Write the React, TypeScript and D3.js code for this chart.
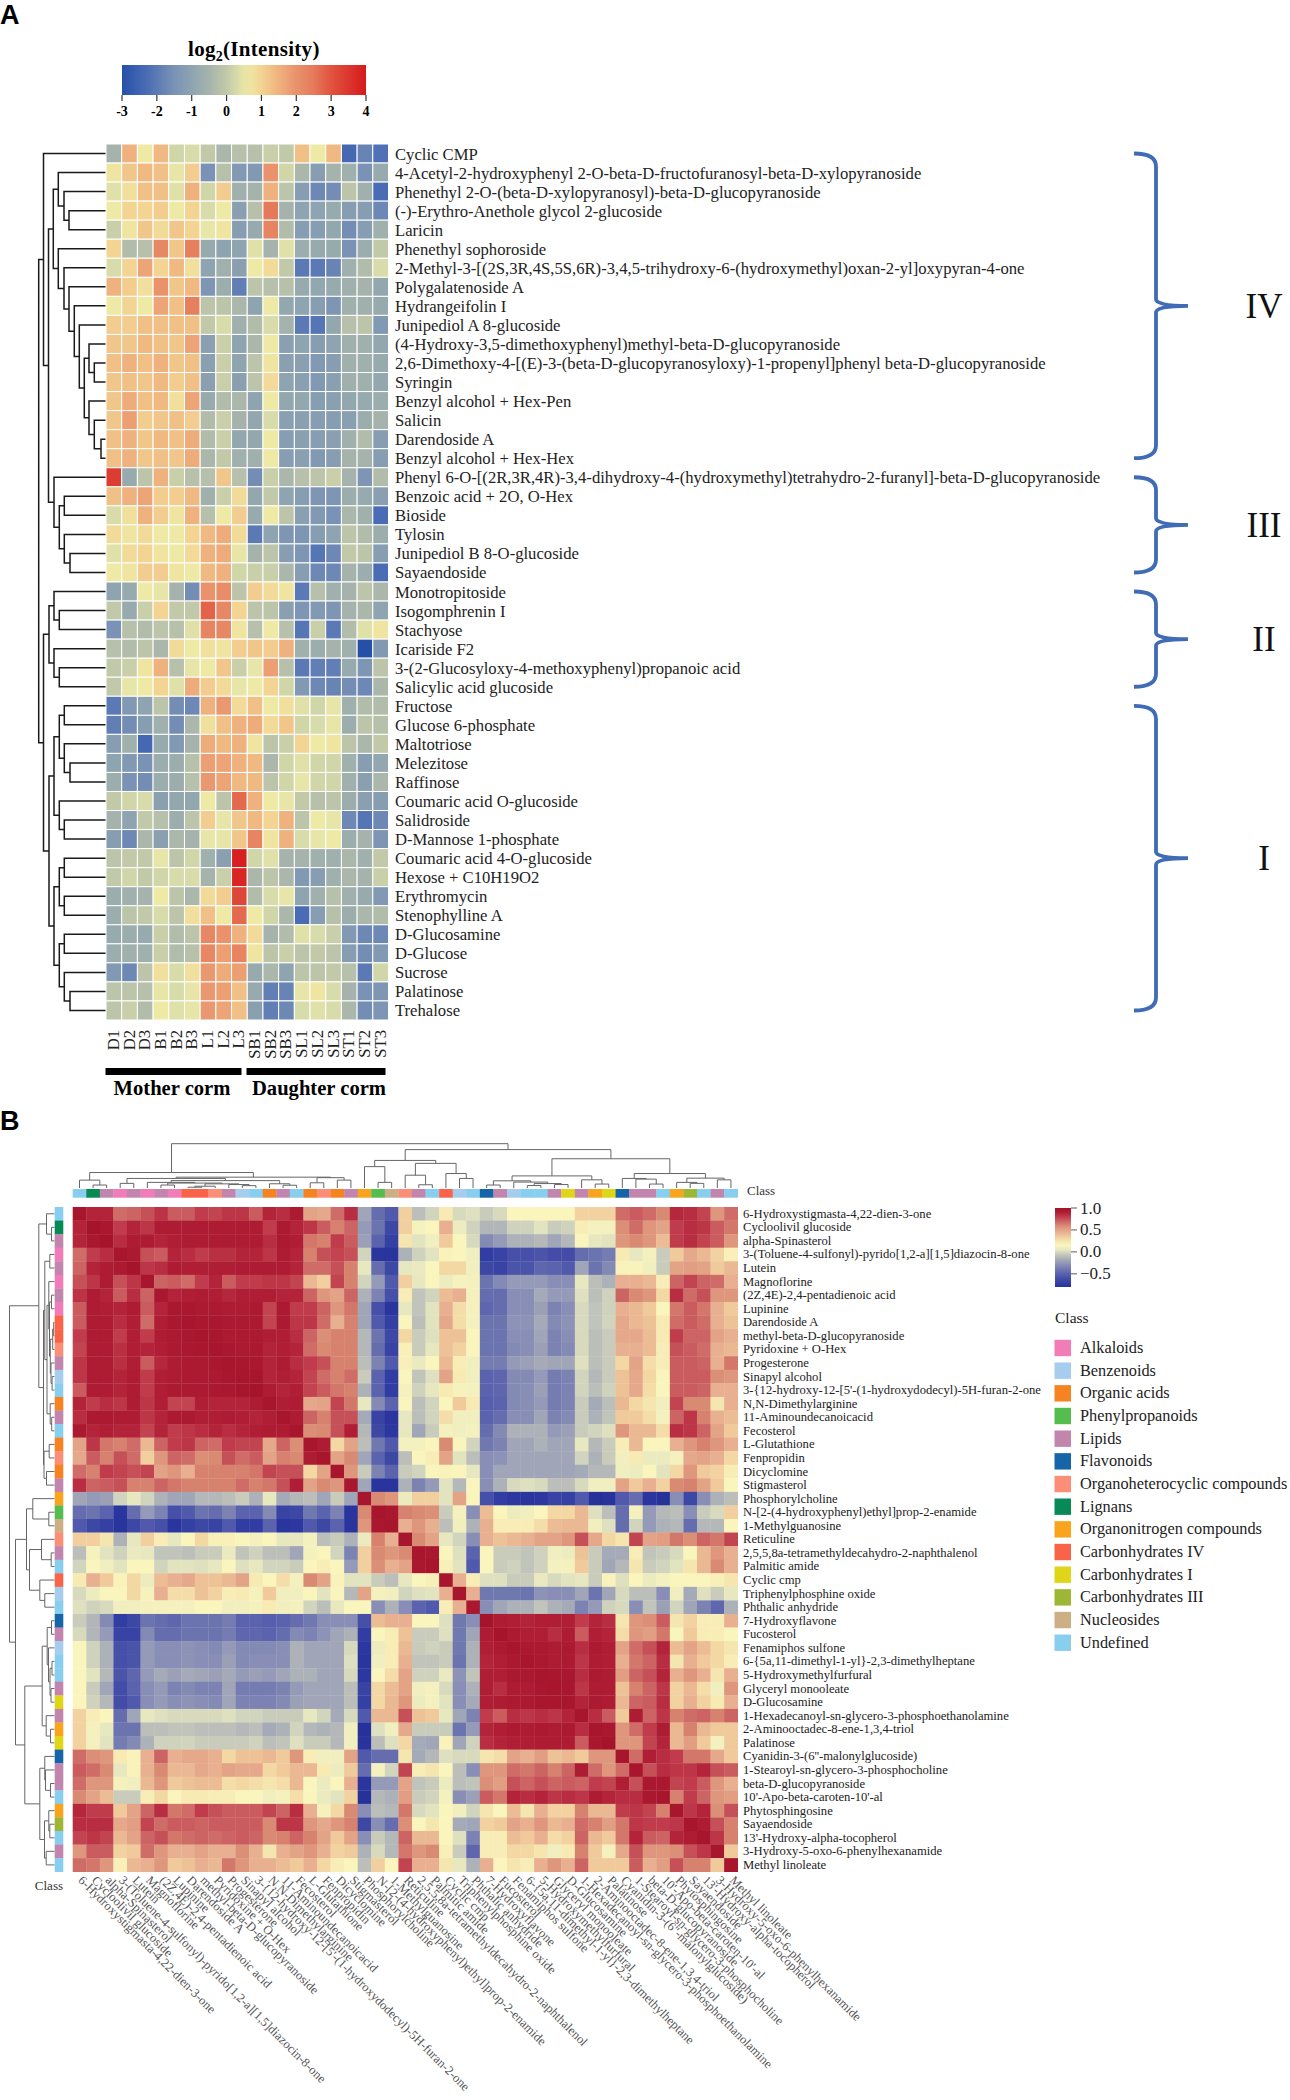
import * as d3 from "d3";

type Tree = number | [number, Tree, Tree];

// panel A
const metabolites = [
  "Cyclic CMP",
  "4-Acetyl-2-hydroxyphenyl 2-O-beta-D-fructofuranosyl-beta-D-xylopyranoside",
  "Phenethyl 2-O-(beta-D-xylopyranosyl)-beta-D-glucopyranoside",
  "(-)-Erythro-Anethole glycol 2-glucoside",
  "Laricin",
  "Phenethyl sophoroside",
  "2-Methyl-3-[(2S,3R,4S,5S,6R)-3,4,5-trihydroxy-6-(hydroxymethyl)oxan-2-yl]oxypyran-4-one",
  "Polygalatenoside A",
  "Hydrangeifolin I",
  "Junipediol A 8-glucoside",
  "(4-Hydroxy-3,5-dimethoxyphenyl)methyl-beta-D-glucopyranoside",
  "2,6-Dimethoxy-4-[(E)-3-(beta-D-glucopyranosyloxy)-1-propenyl]phenyl beta-D-glucopyranoside",
  "Syringin",
  "Benzyl alcohol + Hex-Pen",
  "Salicin",
  "Darendoside A",
  "Benzyl alcohol + Hex-Hex",
  "Phenyl 6-O-[(2R,3R,4R)-3,4-dihydroxy-4-(hydroxymethyl)tetrahydro-2-furanyl]-beta-D-glucopyranoside",
  "Benzoic acid + 2O, O-Hex",
  "Bioside",
  "Tylosin",
  "Junipediol B 8-O-glucoside",
  "Sayaendoside",
  "Monotropitoside",
  "Isogomphrenin I",
  "Stachyose",
  "Icariside F2",
  "3-(2-Glucosyloxy-4-methoxyphenyl)propanoic acid",
  "Salicylic acid glucoside",
  "Fructose",
  "Glucose 6-phosphate",
  "Maltotriose",
  "Melezitose",
  "Raffinose",
  "Coumaric acid O-glucoside",
  "Salidroside",
  "D-Mannose 1-phosphate",
  "Coumaric acid 4-O-glucoside",
  "Hexose + C10H19O2",
  "Erythromycin",
  "Stenophylline A",
  "D-Glucosamine",
  "D-Glucose",
  "Sucrose",
  "Palatinose",
  "Trehalose",
];
const samples = ["D1", "D2", "D3", "B1", "B2", "B3", "L1", "L2", "L3", "SB1", "SB2", "SB3", "SL1", "SL2", "SL3", "ST1", "ST2", "ST3"];
const intensityTicks = [-3, -2, -1, 0, 1, 2, 3, 4];
const intensity = [
  [-.5, 1.5, .6, 1.4, .2, .3, 0, -.4, -.2, -.2, .1, 0, 1.3, .6, 1.4, -2.4, -1.8, -2.2],
  [.7, 1.2, 1.4, 1.3, .5, 1.1, -1.5, -.2, -1.3, -1.3, 2, .2, -.4, -1.2, -.5, -.6, -1.5, -.8],
  [.4, .8, 1.3, 1.3, .4, 1.5, .2, 1.1, -.6, -.5, 1.5, -.1, -1.2, -1.7, -1.6, -.1, -.6, -2.3],
  [.6, 1, 1, 1.1, .6, 1, .3, .6, -1.1, -.2, 2.5, -.5, -1, -1, -.8, -1.2, -1.2, -1.7],
  [.1, .7, 1.2, .9, 1.2, 1, .5, .7, -1.2, -.8, 2.3, -.3, -1.2, -1.2, -.9, -1.6, -1.2, -.6],
  [1, -.3, -.2, 2.2, 1.2, 2.4, -.8, -1, -1, .4, -.5, .4, -.7, -.8, -.8, -1.5, -.7, 0],
  [.3, 1, 1.7, 1, 1.4, .8, -1, -.6, -1.1, .6, .9, 0, -2, -2, -1.8, -.6, -.3, .3],
  [1.5, 1.1, .8, 2, 1.2, 1.4, -1.4, -.7, -1.9, -.1, -.2, -.2, -.8, -.9, -.8, -.6, -.5, -.9],
  [.6, 1, .6, 1.7, 1.3, 2.4, -.1, -.1, -.4, -1, .6, -.9, -1, -1.2, -1.4, -.6, -.6, -.8],
  [1.1, 1.1, 1.3, 1.3, 1.3, 1.3, 0, .3, -.6, -.3, .3, -.5, -2, -2.1, -.9, -.2, -.1, -1.3],
  [1.2, 1.2, 1.4, 1.3, 1.2, 1.7, -1.1, .1, -1, -.4, .6, -1.1, -1, -1.2, -1, -.6, -.6, -.9],
  [1.3, 1.5, 1.3, 1.5, 1.2, 1.3, -1.1, .1, -1, -.1, .7, -1.1, -1.1, -1.3, -1.2, -.6, -.6, -.8],
  [1.2, 1.3, 1.2, 1.4, 1.1, 1.3, -1.1, .1, -1.1, -.1, .9, -1, -1.1, -1.3, -1.1, -.6, -.6, -.9],
  [1.2, 1.6, 1.3, 1.4, .8, 1.7, -.8, -.3, -.4, -1, .6, -.9, -.9, -1.2, -1.1, -.9, -.8, -.7],
  [1.2, 1.8, 1.1, 1.2, 1.3, 1.1, -.3, .1, -.5, -.9, .3, -1.1, -1.1, -1.2, -1.2, -1.1, -.7, -.5],
  [1.3, 1.5, 1.2, 1.4, 1.3, 1.6, -.3, .1, -.9, -.9, .6, -1.2, -1.1, -1.2, -1.1, -.6, -.3, -1.2],
  [1.3, 1.5, 1.2, 1.3, 1.2, 1.6, -.4, 0, -.6, -.6, .6, -1.2, -1.1, -1.3, -1.2, -.5, -.5, -1.2],
  [3.4, -.8, -.1, 1.5, .1, -.2, -.2, 1.2, -.2, -1.6, .1, -.4, -.2, -.1, .1, -.5, -1.4, -.3],
  [1.3, 1.5, 1.7, 1.1, 1.1, 1.4, -.6, .1, .9, -.9, 0, -1, -1.2, -1.4, -1.4, -.7, -.8, -1.1],
  [.3, .8, 1.5, 1.1, .7, 1.5, -.2, .6, 1.1, -.8, .6, -.1, -1.1, -1.3, -1.5, -.4, -.6, -2.3],
  [.9, .7, .9, .6, .6, 1, 1.4, 1.6, .9, -2, -1, -1.4, -1.4, -1.2, -1, -.1, -.3, -.7],
  [.4, .9, 1, .7, .6, .9, 1.5, 1.6, .5, -.5, -.1, -1.2, -1.4, -2.1, -1.7, 0, -.1, -1.2],
  [.6, .7, 1.1, 1.1, .7, .6, 1.4, 1.5, .2, .1, .1, -.4, -1.2, -1.7, -1.7, -.5, -.7, -2.3],
  [-1, -.8, .6, .5, -.5, -1.6, 2, 2.1, -.1, 1.1, .9, .7, -2, -.2, -.6, -.5, -.1, -.4],
  [0, -.8, .1, 1, 0, 0, 2.8, 2.2, 1, -.1, -.1, -1.1, -1.4, -1.3, -1.4, -.5, -.4, -1],
  [-1.5, -.2, -.3, -.1, -.2, .4, 2.3, 2.2, .7, -.2, .6, -.2, -2.1, .1, -2, -.3, .4, .7],
  [-.2, -.3, -.1, -.4, .9, .6, .8, .7, 1.1, 1.2, 1.1, 1.5, -.6, -.7, -.5, -.6, -3, -1.3],
  [0, .1, .7, 1.5, -.2, .5, .6, 1.2, .1, .5, 1.8, -.2, -2, -1.9, -1.9, -.8, -1.4, -.1],
  [0, .5, .6, 1, .4, 1.6, 1.1, .9, .5, .6, 1, .2, -1.3, -1.7, -1.8, -1.6, -1.7, -.4],
  [-2, -1.3, -1, -.1, -1.6, -1.7, 1.5, 1.9, .9, 1.3, .6, .8, .4, .2, .5, -.6, -.3, -.3],
  [-1.9, -1.6, -1.2, -.6, -1.6, -.4, .8, 1.3, 1.5, 1.6, .9, 1.2, .2, .3, .5, -.7, -.1, -.2],
  [-1.2, -.6, -2.4, -.8, -1.3, -.5, 1.6, 1.4, 1.5, .7, -.1, .1, 1, .6, .7, -.1, -.4, 0],
  [-1, -1.3, -1.5, -.7, -.7, -.2, 1.8, 1.7, 1.5, 1.4, -.4, .2, .4, .2, .2, -.6, -1.2, -.9],
  [-.7, -1.5, -1.6, -.7, -.7, -.2, 1.9, 1.7, 1.4, 1.4, -.1, .2, .5, .2, .2, -.6, -1.1, -.4],
  [0, .2, .3, -1.1, -.9, -.9, .6, -.1, 2.7, 1.5, .6, .5, 0, -.2, -.1, -.7, -1.1, -1.2],
  [-.5, -1, 0, -.2, -.7, -.1, 1.1, .5, 1.2, 1.4, 1, 1.5, -.1, .6, .5, -1.7, -2.1, -1.7],
  [-1.2, -1.7, -.4, -1.1, -.4, -.5, .5, .5, 1.2, 2.3, .7, 1.5, .3, .5, .6, -.7, -.5, -1.4],
  [-.1, 0, 0, .5, -.1, .2, -.6, -1.1, 3.9, .2, .4, -.5, -.5, -.6, -.6, -.4, -.6, 0],
  [0, .2, 0, .2, .3, .3, -.5, .1, 3.8, -.4, -.1, -.4, -1.3, -1.2, -.6, -.4, -.5, .1],
  [-.7, -.6, -.5, .6, -.1, -.4, .9, 1.1, 3.2, -.3, .3, .5, -1, -.6, -.2, -.6, -.8, -1.3],
  [-.7, -.1, 0, .3, -.1, .8, 1.3, .6, 2.7, .6, .2, -.4, -2.3, -1.2, -.2, -.7, -.4, -.3],
  [-.8, -.7, -.8, .1, -.3, -.1, 2.2, 2, 1.5, .9, -.5, -.3, .4, .3, .1, -1.3, -1.7, -1.7],
  [-.7, -.6, -.6, .1, -.3, -.2, 2.2, 1.8, 2.3, .7, -.1, .1, -.1, 0, -.1, -1.2, -1.6, -1.3],
  [-1.3, -1.7, -.1, .8, .3, .8, 1.9, 1.6, 1.8, -.8, -.4, -1, -.1, -.1, 0, -.2, -2, .2],
  [-.1, -.1, -.2, .5, .3, .5, 1.9, 1.8, 1.3, -.8, -1.9, -1.8, .5, .7, .3, -.5, -1.5, -1.4],
  [-.1, .1, -.3, .6, .4, .5, 1.9, 1.7, 1.3, -1.1, -1.9, -1.7, .3, .4, .3, -.4, -1.6, -1.4],
];
// merge height, left, right; leaves are 1-based row numbers
const intensityTree: Tree = [67.3,
  [62.5, 1, [57.5,
    [52.7, [47.7, 2, [42, 3, [37, 4, 5]]],
      [47.7, 6, [42, 7, [37, 8, [31.7, 9, [26.7, 10, [21.7, [17, 11, [11.7, 12, 13]], [17, 14, [11.7, 15, [5, 16, 17]]]]]]]]]],
    [52, 18, [46.7, [41.7, 19, 20], [41.7, 21, [36, 22, 23]]]]]],
  [62.5,
    [57, [52, 24, [46.7, 25, 26]], [52, 27, [46.7, 28, 29]]],
    [57,
      [52, [46.7, [41.7, 30, 31], [41.7, 32, [36, 33, 34]]], [46.7, 35, [41.7, 36, 37]]],
      [52, [46.7, [41.7, 38, 39], [41.7, 40, 41]], [46.7, [41.7, 42, 43], [41.7, 44, [36, 45, 46]]]]]]];
const clusterNames = ["IV", "III", "II", "I"];
const clusterRows = [[0, 16], [17, 22], [23, 28], [29, 45]];

// panel B
const compounds = [
  "6-Hydroxystigmasta-4,22-dien-3-one",
  "Cycloolivil glucoside",
  "alpha-Spinasterol",
  "3-(Toluene-4-sulfonyl)-pyrido[1,2-a][1,5]diazocin-8-one",
  "Lutein",
  "Magnoflorine",
  "(2Z,4E)-2,4-pentadienoic acid",
  "Lupinine",
  "Darendoside A",
  "methyl-beta-D-glucopyranoside",
  "Pyridoxine + O-Hex",
  "Progesterone",
  "Sinapyl alcohol",
  "3-{12-hydroxy-12-[5'-(1-hydroxydodecyl)-5H-furan-2-one",
  "N,N-Dimethylarginine",
  "11-Aminoundecanoicacid",
  "Fecosterol",
  "L-Glutathione",
  "Fenpropidin",
  "Dicyclomine",
  "Stigmasterol",
  "Phosphorylcholine",
  "N-[2-(4-hydroxyphenyl)ethyl]prop-2-enamide",
  "1-Methylguanosine",
  "Reticuline",
  "2,5,5,8a-tetramethyldecahydro-2-naphthalenol",
  "Palmitic amide",
  "Cyclic cmp",
  "Triphenylphosphine oxide",
  "Phthalic anhydride",
  "7-Hydroxyflavone",
  "Fucosterol",
  "Fenamiphos sulfone",
  "6-{5a,11-dimethyl-1-yl}-2,3-dimethylheptane",
  "5-Hydroxymethylfurfural",
  "Glyceryl monooleate",
  "D-Glucosamine",
  "1-Hexadecanoyl-sn-glycero-3-phosphoethanolamine",
  "2-Aminooctadec-8-ene-1,3,4-triol",
  "Palatinose",
  "Cyanidin-3-(6''-malonylglucoside)",
  "1-Stearoyl-sn-glycero-3-phosphocholine",
  "beta-D-glucopyranoside",
  "10'-Apo-beta-caroten-10'-al",
  "Phytosphingosine",
  "Sayaendoside",
  "13'-Hydroxy-alpha-tocopherol",
  "3-Hydroxy-5-oxo-6-phenylhexanamide",
  "Methyl linoleate",
];
const classNames = ["Alkaloids", "Benzenoids", "Organic acids", "Phenylpropanoids", "Lipids", "Flavonoids", "Organoheterocyclic compounds", "Lignans", "Organonitrogen compounds", "Carbonhydrates IV", "Carbonhydrates I", "Carbonhydrates III", "Nucleosides", "Undefined"];
const classColours = ["#f07cb8", "#a6cdee", "#f58322", "#55bc4e", "#c286ae", "#1565a8", "#fa8e76", "#078a56", "#f8a51d", "#f96448", "#dfd617", "#9db635", "#cdaf85", "#87ceef"];
const compoundClass = [13, 7, 4, 0, 4, 0, 4, 0, 9, 9, 6, 4, 1, 13, 2, 4, 13, 2, 6, 2, 4, 8, 3, 12, 6, 4, 13, 9, 1, 13, 5, 4, 1, 13, 13, 4, 10, 4, 8, 10, 5, 4, 4, 13, 8, 11, 13, 4, 13];
const corrTicks = [1, 0.5, 0, -0.5];
// upper triangle of the correlation matrix, r x 100, each row starts on the diagonal
const corrUpper = [
  [97, 88, 88, 68, 70, 75, 83, 72, 72, 80, 78, 82, 82, 72, 88, 85, 93, 50, 48, 68, 85, -20, -45, -55, 33, -10, -2, 22, 0, 2, -5, 0, 15, 15, 15, 15, 15, 32, 32, 32, 68, 72, 68, 60, 87, 85, 78, 55, 68],
  [98, 95, 80, 88, 82, 92, 92, 92, 92, 92, 92, 92, 92, 80, 93, 88, 82, 72, 62, 70, -25, -42, -65, 33, 13, 15, 45, 8, -3, -13, -13, -3, -3, 3, -5, -3, 20, 12, 12, 58, 68, 55, 50, 80, 85, 82, 72, 65],
  [98, 85, 92, 92, 88, 90, 92, 92, 92, 92, 92, 92, 85, 93, 90, 65, 62, 80, 72, -22, -50, -70, 25, 3, 10, 35, 15, 0, -32, -25, -15, -15, -12, -20, -12, 15, 5, 3, 55, 60, 55, 40, 80, 85, 78, 72, 55],
  [97, 93, 75, 72, 88, 85, 80, 84, 84, 88, 88, 82, 92, 88, 62, 75, 78, 75, -2, -78, -80, -15, -3, 3, 17, 15, 10, -72, -68, -60, -60, -58, -62, -62, -45, -42, -38, 22, 5, 12, -5, 35, 48, 42, 32, 18],
  [98, 82, 85, 92, 90, 90, 90, 90, 92, 92, 92, 92, 88, 68, 68, 75, 62, 5, -45, -65, 5, 6, 15, 30, 30, 10, -65, -68, -58, -58, -48, -50, -55, -20, -42, -32, 17, 17, 10, -5, 50, 52, 50, 35, 42],
  [97, 70, 72, 68, 80, 88, 72, 80, 80, 82, 82, 78, 42, 33, 78, 62, -2, -25, -55, 33, 5, 15, 8, 13, 12, -42, -32, -25, -25, -25, -30, -30, 5, -10, -15, 45, 45, 42, 20, 70, 78, 70, 68, 45],
  [95, 88, 90, 92, 90, 87, 90, 90, 90, 88, 88, 70, 55, 50, 70, -15, -35, -60, 20, -8, -2, 40, 45, 12, -45, -45, -30, -30, -18, -25, -25, 2, -10, -3, 70, 60, 55, 30, 85, 68, 75, 55, 55],
  [95, 95, 93, 93, 92, 92, 93, 78, 93, 80, 80, 70, 55, 65, -20, -60, -78, 5, -8, 3, 45, 28, 12, -48, -45, -30, -30, -22, -35, -30, 0, -8, -3, 45, 42, 35, 15, 65, 72, 65, 45, 35],
  [97, 95, 95, 93, 93, 93, 78, 93, 82, 82, 68, 45, 62, -20, -55, -70, 15, -10, 3, 48, 28, 12, -42, -42, -28, -28, -18, -32, -28, 0, -8, -2, 48, 42, 38, 22, 68, 72, 68, 45, 38],
  [97, 96, 93, 93, 93, 90, 90, 85, 70, 58, 62, 62, -12, -42, -65, 30, -5, 2, 38, 38, 15, -42, -42, -30, -30, -20, -35, -30, 0, -10, -5, 48, 48, 40, 22, 80, 70, 70, 50, 45],
  [97, 95, 93, 94, 88, 90, 88, 68, 60, 62, 62, -12, -45, -68, 18, -5, 5, 38, 32, 15, -42, -42, -32, -30, -22, -35, -32, 0, -10, -5, 45, 45, 40, 20, 75, 72, 68, 45, 42],
  [97, 96, 95, 88, 92, 85, 80, 75, 62, 62, -10, -35, -55, 18, 6, 15, 42, 20, 10, -38, -38, -25, -22, -18, -20, -20, 2, -10, -5, 30, 50, 28, 20, 72, 72, 70, 45, 65],
  [97, 97, 88, 90, 88, 78, 68, 62, 68, -5, -50, -72, 15, -8, 2, 50, 22, 10, -50, -48, -32, -32, -25, -38, -35, -2, -12, -5, 38, 48, 30, 15, 72, 72, 72, 58, 55],
  [98, 92, 88, 90, 78, 72, 65, 62, -15, -50, -72, 12, -3, 5, 22, 13, 12, -50, -48, -32, -30, -22, -38, -35, -2, -10, -3, 38, 48, 28, 15, 72, 72, 70, 45, 45],
  [97, 90, 92, 48, 50, 78, 65, 5, -32, -50, 15, -10, -2, 15, 35, 22, -52, -50, -32, -30, -25, -38, -35, -5, -18, -10, 42, 30, 25, 10, 78, 60, 60, 25, 45],
  [97, 92, 70, 62, 75, 75, -18, -68, -78, 5, -10, -2, 28, 10, 10, -50, -45, -30, -30, -20, -35, -32, -5, -15, -8, 35, 35, 28, 12, 70, 82, 62, 45, 40],
  [97, 58, 60, 75, 90, -12, -65, -75, 5, -20, -5, 12, 10, 12, -45, -32, -15, -15, -15, -25, -22, -5, -2, 2, 55, 42, 42, 28, 85, 82, 70, 50, 35],
  [97, 92, 30, 50, -10, -40, -55, 12, 12, 15, 60, 15, -2, -40, -35, -20, -20, -15, -20, -20, 5, -12, -5, 20, 42, 15, 15, 45, 55, 62, 55, 45],
  [97, 50, 60, -20, -50, -65, -10, 15, 20, 50, 3, -10, -30, -28, -20, -20, -20, -20, -20, -2, -15, -5, 10, 22, 7, 7, 12, 48, 50, 45, 30],
  [97, 55, -5, -35, -50, -5, -2, 15, 17, 15, 5, -30, -20, -20, -20, -20, -20, -20, -18, -12, -12, 10, 8, 15, 3, 30, 55, 35, 32, 20],
  [95, -20, -80, -80, -15, -35, -25, 3, -12, 15, -30, -15, 0, 2, 0, -10, -10, 0, 10, 10, 50, 35, 45, 32, 60, 62, 50, 35, 15],
  [97, 60, 55, 7, 33, 33, 3, 50, 15, -60, -72, -75, -78, -75, -68, -70, -55, -85, -82, -55, -45, -78, -85, -30, -65, -30, -15, -10],
  [97, 95, 62, 60, 58, -5, 12, -30, 40, 15, 8, 10, 15, 30, 30, 42, 2, -10, -45, 12, -25, -12, -10, -30, -5, 0, 33],
  [97, 45, 55, 45, -10, 10, -15, 45, 20, 20, 20, 28, 40, 42, 42, 10, 2, -45, -2, -25, -15, -12, -45, -12, -12, 15],
  [97, 60, 50, 5, -2, -30, 45, 38, 42, 45, 50, 50, 55, 75, 48, 30, 25, 78, 50, 52, 65, 58, 70, 65, 78],
  [97, 95, 15, 2, -50, 15, -5, -5, -8, -3, 10, 8, 38, -5, -18, -18, 20, -8, -5, 0, 15, 42, 55, 45],
  [97, 18, 3, -55, 15, -5, -3, -8, -3, 12, 12, 35, -5, -20, -12, 25, -5, -2, 3, 25, 42, 60, 45],
  [97, 45, 20, 2, 2, -5, -5, 6, 0, 3, 5, -5, 17, 2, 15, 7, 12, 15, 15, 15, 18, 25],
  [97, 45, -40, -40, -40, -42, -28, -30, -30, -20, -42, -20, 0, -10, -10, -30, 10, -18, 2, -5, 5],
  [95, -30, -20, -15, -15, -8, -15, -18, -35, -25, -3, 0, -30, -8, -22, -2, -20, -35, -48, -15],
  [98, 92, 90, 88, 90, 90, 90, 80, 88, 85, 25, 55, 58, 72, 25, 32, 20, 20, 45],
  [98, 93, 90, 90, 85, 92, 72, 90, 88, 28, 55, 52, 65, 15, 35, 20, 20, 15],
  [97, 94, 94, 92, 93, 85, 93, 90, 50, 68, 75, 88, 40, 50, 40, 30, 25],
  [97, 94, 92, 93, 82, 92, 90, 45, 65, 70, 85, 25, 45, 35, 30, 20],
  [97, 96, 96, 85, 93, 92, 52, 70, 75, 88, 45, 55, 45, 25, 45],
  [97, 96, 82, 92, 92, 38, 62, 70, 82, 32, 42, 28, 10, 55],
  [97, 88, 93, 92, 42, 70, 72, 85, 32, 45, 32, 22, 45],
  [97, 85, 72, 35, 92, 70, 82, 62, 68, 70, 62, 70],
  [97, 95, 55, 68, 80, 92, 42, 62, 42, 35, 35],
  [98, 55, 55, 78, 88, 42, 52, 35, 12, 35],
  [97, 68, 90, 85, 80, 65, 65, 48, 35],
  [97, 75, 85, 82, 82, 88, 75, 72],
  [95, 95, 78, 80, 72, 55, 45],
  [97, 62, 80, 70, 55, 52],
  [97, 82, 88, 58, 75],
  [97, 92, 75, 62],
  [97, 82, 62],
  [97, 35],
  [97],
];
const compoundTree: Tree = [45,
  [15.7, [8, 1, [3, 2, 3]],
    [11,
      [9.7, [4.7, 4, 5], [7.5, [5.7, 6, [5, [3, 7, 8], [4.2, [1.8, [0.8, 9, 10], 11], [3.5, 12, [2.4, 13, 14]]]]], [4.3, 15, [2.8, 16, 17]]]],
      [10.5, [5.3, 18, 19], [8, 20, 21]]]],
  [39,
    [28, [21.7, 22, [5.7, 23, 24]], [25, [13, 25, [3.3, 26, 27]], [14.7, 28, [9.7, 29, 30]]]],
    [29.7,
      [12.3, [7.3, [3, 31, 32], [6, 33, [4.5, [2.5, 34, 35], [3.5, 36, 37]]]], [8.3, 38, [4, 39, 40]]],
      [14.7, [9.7, 41, [9, 42, [4, 43, 44]]], [10, [5.7, 45, [4.7, 46, 47]], [8.3, 48, 49]]]]]];

const corr = compounds.map((_, i) => compounds.map((_, j) => {
  const a = Math.min(i, j);
  const b = Math.max(i, j);
  return corrUpper[a][b - a] / 100;
}));

const SERIF = "'Liberation Serif', serif";

const intensityColour = d3.scaleLinear<string>()
  .domain([-3, -2.3, -2, -1.5, -1, -.5, 0, .3, .6, 1, 1.5, 2, 2.5, 3, 4])
  .range(["#2450a8", "#4a6cb5", "#5b7ab5", "#7a92b5", "#8ea4b0", "#a5b3ac", "#c2c9a8", "#d8dcaa", "#eeeaa6", "#f3d493", "#efb27e", "#e9926c", "#e57a5a", "#e0533f", "#d7191c"])
  .clamp(true);

const corrColour = d3.scaleLinear<string>()
  .domain([-.85, -.75, -.6, -.5, -.4, -.3, -.2, -.12, -.03, .05, .15, .25, .35, .45, .6, .7, .8, .9, 1])
  .range(["#26319a", "#2c38a0", "#4650a8", "#5b62ae", "#7078b0", "#888eb5", "#a0a5b8", "#b5b8b8", "#cfd2bc", "#e8e8c0", "#faf5bd", "#f5e5ae", "#f0ca9a", "#e8b090", "#d98a72", "#cc6464", "#c03c4c", "#b01e35", "#a3122a"])
  .clamp(true);

// walks a merge tree and writes the elbow lines into one path
const dendrogramPath = (
  tree: Tree,
  leafPos: (leaf: number) => number,
  heightPos: (h: number) => number,
  vertical: boolean
) => {
  const path = d3.path();
  const pt = (h: number, p: number): [number, number] => vertical ? [p, heightPos(h)] : [heightPos(h), p];
  const walk = (node: Tree): { p: number; h: number } => {
    if (typeof node === "number") return { p: leafPos(node), h: 0 };
    const a = walk(node[1]);
    const b = walk(node[2]);
    path.moveTo(...pt(a.h, a.p));
    path.lineTo(...pt(node[0], a.p));
    path.lineTo(...pt(node[0], b.p));
    path.lineTo(...pt(b.h, b.p));
    return { p: (a.p + b.p) / 2, h: node[0] };
  };
  walk(tree);
  return path.toString();
};

const PanelA = () => {
  const x = d3.scaleBand().domain(samples).range([106, 388.5]);
  const y = d3.scaleBand().domain(metabolites).range([144, 1020]);
  const legendX = d3.scaleLinear().domain([-3, 4]).range([122, 366]);
  const treeX = d3.scaleLinear().domain([0, 70]).range([106, 36]);
  const rowMid = (row: number) => (y(metabolites[row]) as number) + y.bandwidth() / 2;
  const gradientStops = d3.range(-3, 4.01, 0.25);

  return (
    <g>
      <text x={0} y={24} fontFamily="'Liberation Sans', sans-serif" fontWeight="bold" fontSize={27}>A</text>
      <defs>
        <linearGradient id="intensity-gradient" x1="0%" x2="100%" y1="0%" y2="0%">
          {gradientStops.map((v) => (
            <stop key={v} offset={`${((v + 3) / 7) * 100}%`} stopColor={intensityColour(v)} />
          ))}
        </linearGradient>
      </defs>
      <text x={188} y={56} fontFamily={SERIF} fontWeight="bold" fontSize={21} style={{ letterSpacing: "0.3px" }}>
        log<tspan fontSize={14} dy={5}>2</tspan><tspan dy={-5}>(Intensity)</tspan>
      </text>
      <rect x={legendX(-3)} y={65} width={legendX(4) - legendX(-3)} height={30} fill="url(#intensity-gradient)" />
      {intensityTicks.map((t) => (
        <g key={t}>
          <line x1={legendX(t)} x2={legendX(t)} y1={95} y2={101} stroke="#333" strokeWidth={1.2} />
          <text x={legendX(t)} y={116} textAnchor="middle" fontFamily={SERIF} fontWeight="bold" fontSize={14}>{t}</text>
        </g>
      ))}

      <path
        d={dendrogramPath(intensityTree, (leaf) => rowMid(leaf - 1), treeX, false)}
        fill="none"
        stroke="#1a1a1a"
        strokeWidth={1.5}
      />

      {metabolites.map((name, i) => (
        <g key={name}>
          {samples.map((s, j) => (
            <rect
              key={s}
              x={x(s)}
              y={y(name)}
              width={x.bandwidth()}
              height={y.bandwidth()}
              fill={intensityColour(intensity[i][j])}
              stroke="#fff"
              strokeWidth={1}
            />
          ))}
          <text x={395} y={rowMid(i) + 6} fontFamily={SERIF} fontSize={16.65} fill="#222">{name}</text>
        </g>
      ))}

      {samples.map((s) => (
        <text
          key={s}
          transform={`translate(${(x(s) as number) + x.bandwidth() / 2 + 5},1030) rotate(-90)`}
          textAnchor="end"
          fontFamily={SERIF}
          fontSize={16.65}
          fill="#222"
        >{s}</text>
      ))}

      <rect x={105.5} y={1068} width={136} height={7} fill="#000" />
      <rect x={246.5} y={1068} width={139} height={7} fill="#000" />
      <text x={172} y={1095} textAnchor="middle" fontFamily={SERIF} fontWeight="bold" fontSize={20.6}>Mother corm</text>
      <text x={319} y={1095} textAnchor="middle" fontFamily={SERIF} fontWeight="bold" fontSize={20.6}>Daughter corm</text>

      {clusterNames.map((name, k) => {
        const y0 = rowMid(clusterRows[k][0]);
        const y1 = rowMid(clusterRows[k][1]);
        const mid = (y0 + y1) / 2;
        const [left, spine, tip, r] = [1134, 1156, 1188, 13];
        const brace = d3.path();
        brace.moveTo(left, y0);
        brace.quadraticCurveTo(spine, y0, spine, y0 + r);
        brace.lineTo(spine, mid - r / 2);
        brace.quadraticCurveTo(spine, mid, tip, mid);
        brace.quadraticCurveTo(spine, mid, spine, mid + r / 2);
        brace.lineTo(spine, y1 - r);
        brace.quadraticCurveTo(spine, y1, left, y1);
        return (
          <g key={name}>
            <path d={brace.toString()} fill="none" stroke="#3f6cb5" strokeWidth={3.8} />
            <text x={1264} y={mid + 12} textAnchor="middle" fontFamily={SERIF} fontSize={35} fill="#111">{name}</text>
          </g>
        );
      })}
    </g>
  );
};

const PanelB = () => {
  const pos = d3.scaleBand().domain(compounds).range([72.7, 737.7]);
  const posY = d3.scaleBand().domain(compounds).range([1207, 1871.7]);
  const cell = pos.bandwidth();
  const colMid = (i: number) => (pos(compounds[i]) as number) + cell / 2;
  const rowMid = (i: number) => (posY(compounds[i]) as number) + posY.bandwidth() / 2;
  const topTree = d3.scaleLinear().domain([0, 45]).range([1188, 1143.7]);
  const leftTree = d3.scaleLinear().domain([0, 45]).range([54.5, 9.5]);
  const barY = d3.scaleLinear().domain([1, -0.8]).range([1208, 1287]);
  const gradientStops = d3.range(-0.8, 1.001, 0.05);

  return (
    <g>
      <text x={0} y={1130} fontFamily="'Liberation Sans', sans-serif" fontWeight="bold" fontSize={27}>B</text>

      <path d={dendrogramPath(compoundTree, (leaf) => colMid(leaf - 1), topTree, true)} fill="none" stroke="#666" strokeWidth={1} />
      <path d={dendrogramPath(compoundTree, (leaf) => rowMid(leaf - 1), leftTree, false)} fill="none" stroke="#666" strokeWidth={1} />

      {compounds.map((name, i) => (
        <g key={name}>
          <rect x={pos(name)} y={1189} width={cell + 0.3} height={8.7} fill={classColours[compoundClass[i]]} />
          <rect x={54.7} y={posY(name)} width={8.6} height={posY.bandwidth() + 0.3} fill={classColours[compoundClass[i]]} />
          {compounds.map((other, j) => (
            <rect
              key={other}
              x={pos(other)}
              y={posY(name)}
              width={cell + 0.3}
              height={posY.bandwidth() + 0.3}
              fill={corrColour(corr[i][j])}
            />
          ))}
          <text x={743} y={rowMid(i) + 4} fontFamily={SERIF} fontSize={12.64} fill="#222">{name}</text>
          <text
            transform={`translate(${colMid(i) - 2},1881) rotate(45)`}
            fontFamily={SERIF}
            fontSize={12.64}
            fill="#555"
          >{name}</text>
        </g>
      ))}

      <text x={747} y={1195} fontFamily={SERIF} fontSize={13} fill="#333">Class</text>
      <text x={63} y={1890} textAnchor="end" fontFamily={SERIF} fontSize={13} fill="#333">Class</text>

      <defs>
        <linearGradient id="corr-gradient" x1="0%" x2="0%" y1="100%" y2="0%">
          {gradientStops.map((v) => (
            <stop key={v} offset={`${((v + 0.8) / 1.8) * 100}%`} stopColor={corrColour(v)} />
          ))}
        </linearGradient>
      </defs>
      <rect x={1055} y={barY(1)} width={16} height={barY(-0.8) - barY(1)} fill="url(#corr-gradient)" />
      {corrTicks.map((t) => (
        <g key={t}>
          <line x1={1071} x2={1077} y1={barY(t)} y2={barY(t)} stroke="#333" strokeWidth={0.8} />
          <text x={1080} y={barY(t) + 5.5} fontFamily={SERIF} fontSize={17} fill="#222">
            {d3.format(".1f")(t)}
          </text>
        </g>
      ))}

      <text x={1055} y={1323} fontFamily={SERIF} fontSize={15.5} fill="#222">Class</text>
      {classNames.map((name, i) => {
        const cy = 1348 + i * 22.67;
        return (
          <g key={name}>
            <rect x={1054.5} y={cy - 8.2} width={16.5} height={16.4} fill={classColours[i]} />
            <text x={1080} y={cy + 5} fontFamily={SERIF} fontSize={16.3} fill="#222">{name}</text>
          </g>
        );
      })}
    </g>
  );
};

export default function App() {
  return (
    <svg
      width={1290}
      height={2100}
      viewBox="0 0 1290 2100"
      style={{ position: "absolute", left: 0, top: 0, background: "#fff" }}
    >
      <PanelA />
      <PanelB />
    </svg>
  );
}
